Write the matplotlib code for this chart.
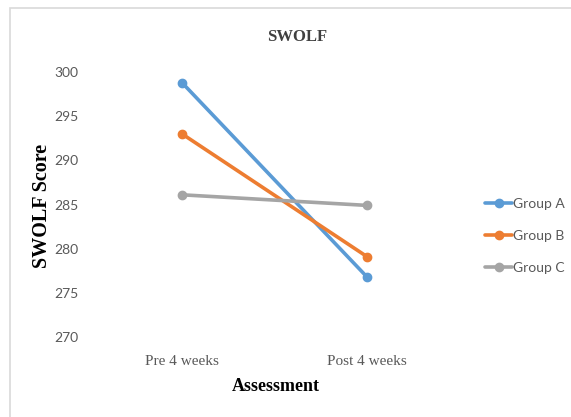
import matplotlib.pyplot as plt
from matplotlib.patches import Rectangle

# SWOLF scores before and after the 4-week programme
stages = ['Pre 4 weeks', 'Post 4 weeks']
group_a = [298.8, 276.8]
group_b = [293.0, 279.1]
group_c = [286.1, 284.9]
groups = ['Group A', 'Group B', 'Group C']
colors = ['#5B9BD5', '#ED7D31', '#A5A5A5']
yticks = [270, 275, 280, 285, 290, 295, 300]

fig = plt.figure(figsize=(5.71, 4.17), dpi=100)
fig.patches.append(Rectangle((10 / 571, -0.01), 1.0, (417 - 8) / 417 + 0.01,
                             transform=fig.transFigure, fill=False,
                             edgecolor='#D9D9D9', linewidth=1.2))

ax = fig.add_axes([0.1567, 0.1918, 0.648, 0.6355])
x = [0.5, 1.5]
for name, vals, c in zip(groups, [group_a, group_b, group_c], colors):
    ax.plot(x, vals, '-o', color=c, lw=2.6, ms=6, label=name,
            solid_capstyle='round')

ax.set_xlim(0, 2)
ax.set_ylim(270, 300)
ax.set_xticks(x)
ax.set_xticklabels(stages, fontfamily='Liberation Serif', fontsize=11,
                   color='#595959')
ax.set_yticks(yticks)
ax.set_yticklabels([str(t) for t in yticks], fontfamily='Lato', fontsize=10,
                   color='#595959')
ax.tick_params(length=0)
ax.tick_params(axis='y', pad=8)
ax.tick_params(axis='x', pad=13)
for s in ax.spines.values():
    s.set_visible(False)

fig.text(0.52, 0.912, 'SWOLF', ha='center', va='center', fontsize=12,
         fontweight='bold', fontfamily='Liberation Serif', color='#404040')
fig.text(0.074, 0.506, 'SWOLF Score', rotation=90, ha='center', va='center',
         fontsize=14.5, fontweight='bold', fontfamily='Liberation Serif')
fig.text(0.483, 0.072, 'Assessment', ha='center', va='center', fontsize=13,
         fontweight='bold', fontfamily='Liberation Serif')

fig.legend(loc='center left', bbox_to_anchor=(0.827, 0.434), frameon=False,
           handlelength=2.0, handletextpad=0.05, labelspacing=1.45,
           prop={'family': 'Lato', 'size': 10}, labelcolor='#595959')

fig.savefig('out.png', dpi=100)
